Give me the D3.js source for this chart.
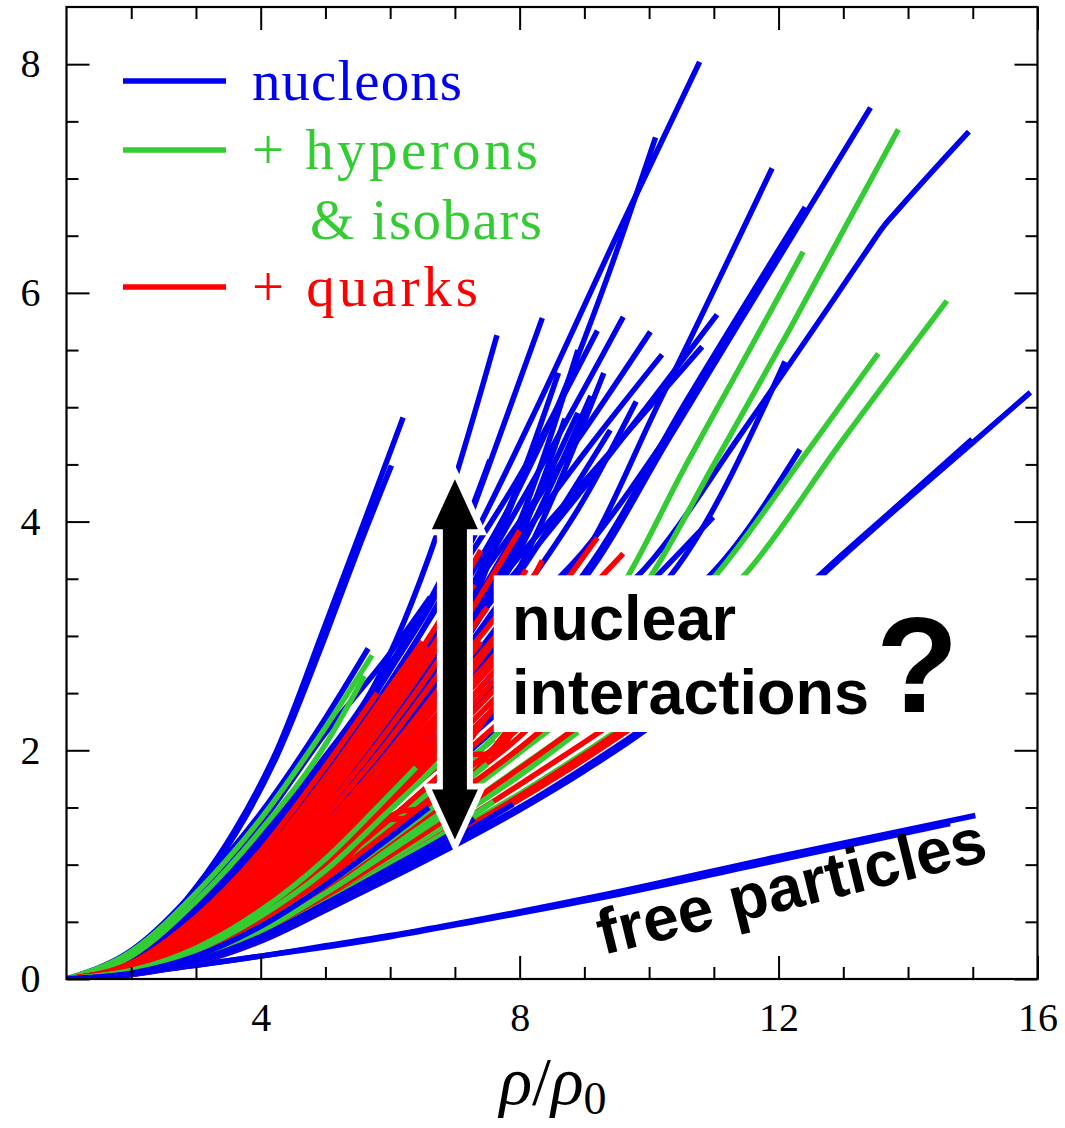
<!DOCTYPE html>
<html>
<head>
<meta charset="utf-8">
<script src="https://cdn.jsdelivr.net/npm/d3@7"></script>
<style>
  html, body { margin: 0; padding: 0; background: #fff; }
  svg { display: block; }
</style>
</head>
<body>
<svg id="chart" width="1065" height="1128"></svg>
<script>
// curves are [rho/rho0, P] pairs

// nucleons only (blue)
const nucleonCurves = [
  [[1,0],[2,.22],[3,.8],[3.6,1.3],[4.25,2],[5,3.1],[5.6,4],[6.2,4.91]],
  [[1,0],[2,.21],[3,.78],[3.6,1.26],[4.25,1.95],[5,3],[5.5,3.75],[6.02,4.49]],
  [[1,0],[2,.25],[3,.78],[4,1.45],[5,2.28],[5.66,2.89]],
  [[1,0],[2,.2],[3,.7],[4,1.36],[5,2.15],[6,2.85],[6.62,3.34]],
  [[1,0],[2,.18],[3,.62],[4,1.25],[5,1.95],[5.74,2.55],[6.73,3.9],[7.65,5.63]],
  [[1,0],[2,.17],[3,.6],[4,1.2],[5,1.9],[6,2.75],[7,3.75],[7.54,4.54]],
  [[1,0],[2,.16],[3,.56],[4,1.15],[5,1.85],[6,2.7],[7,3.7],[7.5,4.45],[8.35,5.78]],
  [[1,0],[2,.14],[3,.52],[4,1.08],[5,1.78],[6,2.6],[7,3.5],[8,4.4],[9.2,5.67]],
  [[1,0],[2,.13],[3,.48],[4,1.02],[5,1.72],[6,2.5],[7,3.2],[8,4.15],[9.6,5.79]],
  [[1,0],[2,.12],[3,.46],[4,.98],[5,1.64],[6,2.4],[7,3.2],[8,4],[9,4.8],[10.02,5.66]],
  [[1,0],[2,.12],[3,.44],[4,.95],[5,1.6],[6,2.32],[7,3.08],[8,3.84],[9,4.6],[10.2,5.46]],
  [[1,0],[2,.11],[3,.42],[4,.9],[5,1.55],[6,2.25],[7,2.98],[8,3.7],[9,4.35],[10.82,5.53]],
  [[1,0],[2,.11],[3,.42],[4,.9],[5,1.54],[6,2.22],[7,2.92],[8,3.6],[9,4.3],[10,5.03],[11.05,5.81]],
  [[1,0],[2,.14],[3,.5],[4,1.05],[5,1.75],[6,2.58],[7,3.55],[8.32,5.06],[9.5,6.5],[10.78,8.02]],
  [[1,0],[2,.12],[3,.44],[4,.94],[5,1.6],[6,2.4],[7,3.3],[8,4.3],[8.58,5],[9.3,6.05],[10.1,7.36]],
  [[1,0],[2,.09],[3,.34],[4,.74],[5,1.28],[6,1.9],[7,2.58],[8,3.2],[8.86,3.6],[10.17,5.06],[11.9,7.09]],
  [[1,0],[2,.08],[3,.3],[4,.66],[5,1.14],[6,1.7],[7,2.3],[8,2.93],[9,3.55],[10.58,5.06],[12.41,6.75]],
  [[1,0],[2,.08],[3,.3],[4,.66],[5,1.14],[6,1.7],[7,2.3],[8,2.93],[9,3.5],[10.3,4.72],[11.61,5.94],[13.42,7.62]],
  [[1,0],[2,.07],[3,.26],[4,.58],[5,1],[6,1.5],[7,2.03],[8,2.58],[9,3.1],[9.95,3.6],[11.4,4.75],[12.85,5.94],[13.4,6.4],[13.62,6.58],[13.85,6.73],[14.94,7.41]],
  [[1,0],[2,.07],[3,.26],[4,.58],[5,1],[6,1.5],[7,2],[8,2.5],[9,2.98],[10.94,3.53],[12.33,4.63]],
  [[1,0],[2,.065],[3,.24],[4,.54],[5,.94],[6,1.4],[7,1.88],[8,2.38],[9,2.9],[10.13,3.53],[10.99,4.04]],
  [[1,0],[2,.075],[3,.28],[4,.62],[5,1.07],[6,1.6],[7,2.17],[8,2.76],[9,2.9],[10.43,3.6],[12.1,5.4]],
  [[1,0],[2,.11],[3,.4],[4,.86],[5,1.49],[6,2.25],[7,3.15],[8,4.35],[8.6,5.3]],
  [[1,0],[2,.1],[3,.38],[4,.82],[5,1.42],[6,2.12],[7,2.95],[8,3.9],[8.9,4.95]],
  [[1,0],[2,.095],[3,.36],[4,.78],[5,1.35],[6,2],[7,2.75],[8,3.55],[9.4,4.8]],
  [[1,0],[2,.105],[3,.4],[4,.86],[5,1.49],[6,2.2],[7,3.05],[8.2,4.6]],
  [[1,0],[2,.1],[3,.38],[4,.82],[5,1.42],[6,2.1],[7,2.95],[7.9,4.2]],
  [[1,0],[2,.09],[3,.34],[4,.74],[5,1.28],[6,1.9],[7,2.6],[8,3.35],[9,4.2],[9.8,5.05]],
  [[1,0],[2,.085],[3,.32],[4,.7],[5,1.21],[6,1.8],[7,2.45],[8,3.15],[9,3.75],[10.4,4.85]],
  [[1,0],[2,.1],[3,.38],[4,.82],[5,1.42],[6,2.12],[7,2.98],[8,4],[8.9,5.5]],
  [[1,0],[2,.1],[3,.37],[4,.8],[5,1.39],[6,2.08],[7,2.9],[8,3.85],[8.7,4.9]],
  [[1,0],[2,.095],[3,.36],[4,.78],[5,1.36],[6,2.03],[7,2.82],[8,3.75],[9.1,5.1]],
  [[1,0],[2,.1],[3,.38],[4,.83],[5,1.44],[6,2.15],[7,3],[8,3.95],[8.5,4.4]],
  [[1,0],[2,.09],[3,.35],[4,.76],[5,1.32],[6,1.97],[7,2.72],[8,3.6],[9.3,5.3]],
  [[1,0],[2,.04],[3,.14],[4,.33],[5,.6],[6,.88],[7,1.17],[8,1.48],[9,1.82],[10,2.2],[11,2.68],[12,3.18],[13,3.7],[14,4.2],[15,4.69],[15.89,5.13]],
  [[1,0],[2,.04],[3,.15],[4,.34],[5,.61],[6,.9],[7,1.19],[8,1.5],[9,1.85],[10,2.23],[11,2.7],[12,3.2],[13,3.72],[14,4.22],[14.99,4.72]],
  // free particles
  [[1,0],[2,.05],[3,.12],[4,.2],[5,.29],[6,.38],[7.08,.49],[9.25,.73],[12,1.07],[15.04,1.43]],
  [[1,0],[2,.05],[3,.12],[4,.2],[5,.28],[6,.37],[7.08,.48],[9.25,.71],[12,1.04],[14.65,1.36]]
]

// + hyperons & isobars (green), drawn below the quark curves
const hyperonCurves = [
  [[1,0],[2,.24],[3,.75],[4,1.4],[5,2.2],[5.72,2.83]],
  [[1,0],[2,.2],[3,.68],[4,1.3],[5,2.05],[5.6,2.65]],
  [[1,0],[2,.06],[3,.22],[4,.5],[5,.87],[6,1.3],[7,1.78],[8,2.35],[9,2.95],[9.68,3.53],[10.5,4.42],[11.5,5.45],[12.38,6.36]],
  [[1,0],[2,.06],[3,.22],[4,.5],[5,.87],[6,1.28],[7,1.72],[8,2.2],[9,2.8],[10,3.5],[11,4.5],[12.16,5.67],[13.85,7.43]],
  [[1,0],[2,.05],[3,.19],[4,.43],[5,.77],[6,1.15],[7,1.55],[8,1.98],[9,2.42],[10,2.93],[11,3.51],[12.3,4.5],[13.54,5.47]],
  [[1,0],[2,.05],[3,.18],[4,.41],[5,.72],[6,1.08],[7,1.45],[8,1.85],[9,2.25],[10,2.72],[11,3.25],[11.5,3.55],[13,4.72],[14.6,5.93]],
  [[1,0],[2,.05],[3,.17],[4,.39],[5,.7],[6,1.05],[7,1.4],[8,1.78],[8.9,2.16]],
  [[1,0],[2,.063],[3,.23],[4,.52],[5,.9],[6,1.35],[7,1.82],[7.6,2.1]],
  [[1,0],[2,.055],[3,.2],[4,.45],[5,.8],[6,1.18],[7,1.58],[8,2],[8.6,2.3]],
  [[1,0],[2,.045],[3,.16],[4,.37],[5,.66],[6,.97],[7,1.29],[8,1.62],[9,1.98],[9.5,2.17]]
]

// + hyperons & isobars (green), drawn over the quark curves
const hyperonTopCurves = [
  [[1,0],[2,.045],[3,.16],[4,.37],[5,.67],[6,1],[7,1.33],[7.6,1.55]],
  [[1,0],[2,.05],[3,.18],[4,.42],[5,.75],[6,1.12],[6.8,1.42]],
  [[1,0],[2,.055],[3,.2],[4,.46],[5,.82],[6,1.22],[7,1.65],[7.5,1.88]],
  [[1,0],[2,.07],[3,.25],[4,.55],[5,.95],[6,1.48],[6.5,1.75],[6.9,1.98]],
  [[1,0],[2,.075],[3,.27],[4,.6],[5,1.05],[5.8,1.5],[6.4,1.85]]
]

// + quarks (red)
const quarkCurves = [
  [[1,0],[2,.045],[3,.165],[4,.38],[5,.68],[6,1],[7,1.34],[8,1.7],[9,2.07],[10,2.45]],
  [[1,0],[2,.05],[3,.18],[4,.41],[5,.73],[6,1.08],[7,1.45],[8,1.84],[9,2.25],[9.6,2.5]],
  [[1,0],[2,.055],[3,.2],[4,.45],[5,.8],[6,1.2],[7,1.6],[8,2.02],[8.8,2.4]],
  [[1,0],[2,.058],[3,.21],[4,.48],[5,.84],[6,1.25],[7,1.68],[8,2.12],[8.5,2.4]],
  [[1,0],[2,.06],[3,.22],[4,.5],[5,.87],[6,1.3],[7,1.75],[8,2.2],[9,2.68],[9.6,3]],
  [[1,0],[2,.065],[3,.24],[4,.54],[5,.94],[6,1.4],[7,1.9],[8,2.4],[9,2.9],[9.9,3.4]],
  [[1,0],[2,.07],[3,.26],[4,.58],[5,1],[6,1.5],[7,2.03],[8,2.58],[9,3.13],[9.6,3.5]],
  [[1,0],[2,.073],[3,.27],[4,.6],[5,1.04],[6,1.55],[7,2.1],[8,2.67],[8.6,3]],
  [[1,0],[2,.075],[3,.28],[4,.62],[5,1.07],[6,1.6],[7,2.17],[8,2.76],[9,3.36],[9.6,3.72]],
  [[1,0],[2,.078],[3,.29],[4,.64],[5,1.1],[6,1.65],[7,2.23],[8,2.85],[8.35,3.05]],
  [[1,0],[2,.08],[3,.3],[4,.66],[5,1.14],[6,1.7],[7,2.3],[8,2.95],[9.2,3.86]],
  [[1,0],[2,.083],[3,.31],[4,.68],[5,1.17],[6,1.75],[7,2.38],[8,3.02],[8.6,3.45]],
  [[1,0],[2,.085],[3,.32],[4,.7],[5,1.21],[6,1.8],[7,2.45],[8,3.12],[8.35,3.45]],
  [[1,0],[2,.088],[3,.33],[4,.72],[5,1.25],[6,1.85],[7,2.5],[7.6,2.95]],
  [[1,0],[2,.09],[3,.34],[4,.74],[5,1.28],[6,1.9],[7,2.58],[8,3.3],[8.35,3.66]],
  [[1,0],[2,.093],[3,.35],[4,.76],[5,1.31],[6,1.95],[7,2.65],[7.4,2.95]],
  [[1,0],[2,.095],[3,.36],[4,.78],[5,1.35],[6,2],[7,2.72],[8,3.48],[8.1,3.58]],
  [[1,0],[2,.1],[3,.38],[4,.82],[5,1.42],[6,2.1],[7,2.86],[7.5,3.25]],
  [[1,0],[2,.105],[3,.4],[4,.86],[5,1.49],[6,2.2],[7,3],[8,3.92]],
  [[1,0],[2,.11],[3,.42],[4,.9],[5,1.56],[6,2.3],[6.8,2.95]],
  [[1,0],[2,.115],[3,.43],[4,.93],[5,1.6],[6,2.36],[7,3.2],[7.3,3.45]],
  [[1,0],[2,.12],[3,.44],[4,.95],[5,1.64],[6,2.42],[6.6,2.9]],
  [[1,0],[2,.125],[3,.47],[4,1],[5,1.7],[6,2.48],[7,3.35],[7.4,3.75]],
  [[1,0],[2,.13],[3,.5],[4,1.05],[5,1.76],[6,2.55],[6.5,2.95]],
  [[1,0],[2,.14],[3,.54],[4,1.12],[5,1.86],[5.8,2.5]],
  [[1,0],[2,.06],[3,.22],[4,.5],[5,.88],[6.2,1.47],[6.8,1.5],[7.5,1.95],[8.5,2.7]],
  [[1,0],[2,.07],[3,.26],[4,.58],[5,1],[6,1.5],[7.15,1.96],[7.6,1.97],[8.2,2.5],[9,3.2]],
  [[1,0],[2,.075],[3,.27],[4,.6],[5,1.02],[5.8,1.38],[6.4,1.42],[7,1.9],[8,2.7]],
  [[1,0],[2,.042],[3,.15],[4,.35],[5,.63],[6,.93],[7,1.24],[8,1.57],[9,1.92],[10,2.3]],
  [[1,0],[2,.043],[3,.155],[4,.36],[5,.645],[6,.95],[7,1.27],[8,1.6],[9,1.96],[10,2.34]]
]

// nucleon curves that show on top inside the band
const nucleonTopCurves = [
  [[1,0],[2,.05],[3,.2],[4,.46],[5,.82],[6,1.24],[6.6,1.5]],
  [[1,0],[2,.042],[3,.15],[4,.35],[5,.63],[6,.93],[7,1.23],[7.9,1.53]],
  [[1,0],[2,.044],[3,.16],[4,.37],[5,.66],[6,.97],[7,1.29],[7.3,1.4]]
]

const xMajor = [4, 8, 12, 16]
const xMinor = [2, 3, 5, 6, 7, 9, 10, 11, 13, 14, 15]
const yMajor = [0, 2, 4, 6, 8]
const yMinor = [0.5, 1, 1.5, 2.5, 3, 3.5, 4.5, 5, 5.5, 6.5, 7, 7.5]

const colors = { nucleons: '#0000f0', hyperons: '#33cc33', quarks: '#ff0000' }

const W = 1065
const H = 1128
const plot = { left: 66.5, right: 1037.5, top: 7, bottom: 979 }
const serif = '"Liberation Serif", "Times New Roman", serif'
const sans = '"Liberation Sans", Arial, sans-serif'

const x = d3.scaleLinear().domain([1, 16]).range([plot.left, plot.right])
const y = d3.scaleLinear().domain([0, 8.5]).range([plot.bottom, plot.top])

const svg = d3.select('#chart')
svg.append('rect').attr('width', W).attr('height', H).attr('fill', '#fff')

svg.append('clipPath').attr('id', 'clip')
  .append('rect')
  .attr('x', plot.left).attr('y', plot.top)
  .attr('width', plot.right - plot.left).attr('height', plot.bottom - plot.top)

const line = d3.line()
  .x(d => x(d[0]))
  .y(d => y(d[1]))
  .curve(d3.curveMonotoneX)

const curvesG = svg.append('g').attr('clip-path', 'url(#clip)')
const layers = [
  [nucleonCurves, colors.nucleons],
  [hyperonCurves, colors.hyperons],
  [quarkCurves, colors.quarks],
  [hyperonTopCurves, colors.hyperons],
  [nucleonTopCurves, colors.nucleons]
]
layers.forEach(([curves, color]) => {
  curvesG.append('g')
    .selectAll('path')
    .data(curves)
    .enter().append('path')
    .attr('d', line)
    .attr('fill', 'none')
    .attr('stroke', color)
    .attr('stroke-width', 5.5)
    .attr('stroke-linejoin', 'round')
})

// axes: inward ticks on all four sides
function drawAxis (axis, transform, labelled) {
  const a = svg.append('g').attr('transform', transform).call(axis)
  a.select('.domain').remove()
  a.selectAll('line').attr('stroke', '#000').attr('stroke-width', 2)
  a.selectAll('text')
    .attr('font-family', serif)
    .attr('font-size', 40)
    .attr('fill', '#000')
  if (!labelled) a.selectAll('text').remove()
  return a
}

drawAxis(d3.axisBottom(x).tickValues(xMajor).tickSize(-23).tickPadding(24).tickFormat(d3.format('d')), `translate(0,${plot.bottom})`, true)
drawAxis(d3.axisBottom(x).tickValues(xMinor).tickSize(-12), `translate(0,${plot.bottom})`, false)
drawAxis(d3.axisTop(x).tickValues(xMajor).tickSize(-23), `translate(0,${plot.top})`, false)
drawAxis(d3.axisTop(x).tickValues(xMinor).tickSize(-12), `translate(0,${plot.top})`, false)
drawAxis(d3.axisLeft(y).tickValues(yMajor).tickSize(-23).tickPadding(26).tickFormat(d3.format('d')), `translate(${plot.left},0)`, true)
drawAxis(d3.axisLeft(y).tickValues(yMinor).tickSize(-12), `translate(${plot.left},0)`, false)
drawAxis(d3.axisRight(y).tickValues(yMajor).tickSize(-23), `translate(${plot.right},0)`, false)
drawAxis(d3.axisRight(y).tickValues(yMinor).tickSize(-12), `translate(${plot.right},0)`, false)

svg.append('rect')
  .attr('x', plot.left).attr('y', plot.top)
  .attr('width', plot.right - plot.left).attr('height', plot.bottom - plot.top)
  .attr('fill', 'none').attr('stroke', '#000').attr('stroke-width', 2.2)

// x axis title rho/rho_0
const xt = svg.append('text')
  .attr('x', 553).attr('y', 1104)
  .attr('text-anchor', 'middle')
  .attr('font-family', serif)
  .attr('font-size', 68)
  .attr('fill', '#000')
xt.append('tspan').attr('font-style', 'italic').text('ρ')
xt.append('tspan').text('/')
xt.append('tspan').attr('font-style', 'italic').text('ρ')
xt.append('tspan').attr('font-size', 46).attr('dy', 10).text('0')

// legend
const legendRows = [
  { text: 'nucleons', color: colors.nucleons, lineY: 81, textY: 100, x0: 252, width: 210, withLine: true },
  { text: '+ hyperons', color: colors.hyperons, lineY: 150, textY: 169, x0: 252, width: 286, withLine: true },
  { text: '& isobars', color: colors.hyperons, lineY: null, textY: 239, x0: 310, width: 232, withLine: false },
  { text: '+ quarks', color: colors.quarks, lineY: 287, textY: 306, x0: 252, width: 226, withLine: true }
]
const lg = svg.append('g')
lg.selectAll('line')
  .data(legendRows.filter(d => d.withLine))
  .enter().append('line')
  .attr('x1', 123).attr('x2', 226)
  .attr('y1', d => d.lineY).attr('y2', d => d.lineY)
  .attr('stroke', d => d.color)
  .attr('stroke-width', 5.5)
lg.selectAll('text')
  .data(legendRows)
  .enter().append('text')
  .attr('x', d => d.x0)
  .attr('y', d => d.textY)
  .attr('textLength', d => d.width)
  .attr('lengthAdjust', 'spacing')
  .attr('font-family', serif)
  .attr('font-size', 57)
  .attr('fill', d => d.color)
  .text(d => d.text)

// annotation: white box with text
const box = { x0: 7.6, x1: 13.4, y0: 2.16, y1: 3.53 }
svg.append('rect')
  .attr('x', x(box.x0)).attr('y', y(box.y1))
  .attr('width', x(box.x1) - x(box.x0))
  .attr('height', y(box.y0) - y(box.y1))
  .attr('fill', '#fff')

const ann = svg.append('g')
  .attr('font-family', sans)
  .attr('font-weight', 'bold')
  .attr('fill', '#000')
ann.append('text').attr('x', 512).attr('y', 640).attr('font-size', 63).text('nuclear')
ann.append('text').attr('x', 512).attr('y', 714).attr('font-size', 63).text('interactions')
ann.append('text').attr('x', 876).attr('y', 712).attr('font-size', 135).text('?')
ann.append('text')
  .attr('transform', 'translate(603,955) rotate(-13.8)')
  .attr('font-size', 64)
  .text('free particles')

// double arrow
const arrowX = x(7.0)
const arrowTop = y(4.37)
const arrowBot = y(1.22)
const hw = 23
const hl = 50
const sw = 12
const arrowPts = [
  [arrowX, arrowTop], [arrowX + hw, arrowTop + hl], [arrowX + sw, arrowTop + hl], [arrowX + sw, arrowBot - hl],
  [arrowX + hw, arrowBot - hl], [arrowX, arrowBot], [arrowX - hw, arrowBot - hl], [arrowX - sw, arrowBot - hl],
  [arrowX - sw, arrowTop + hl], [arrowX - hw, arrowTop + hl]
]
svg.append('path')
  .attr('d', 'M' + arrowPts.map(p => p.join(',')).join('L') + 'Z')
  .attr('fill', '#000')
  .attr('stroke', '#fff')
  .attr('stroke-width', 12)
  .attr('stroke-linejoin', 'miter')
  .attr('paint-order', 'stroke')
</script>
</body>
</html>
